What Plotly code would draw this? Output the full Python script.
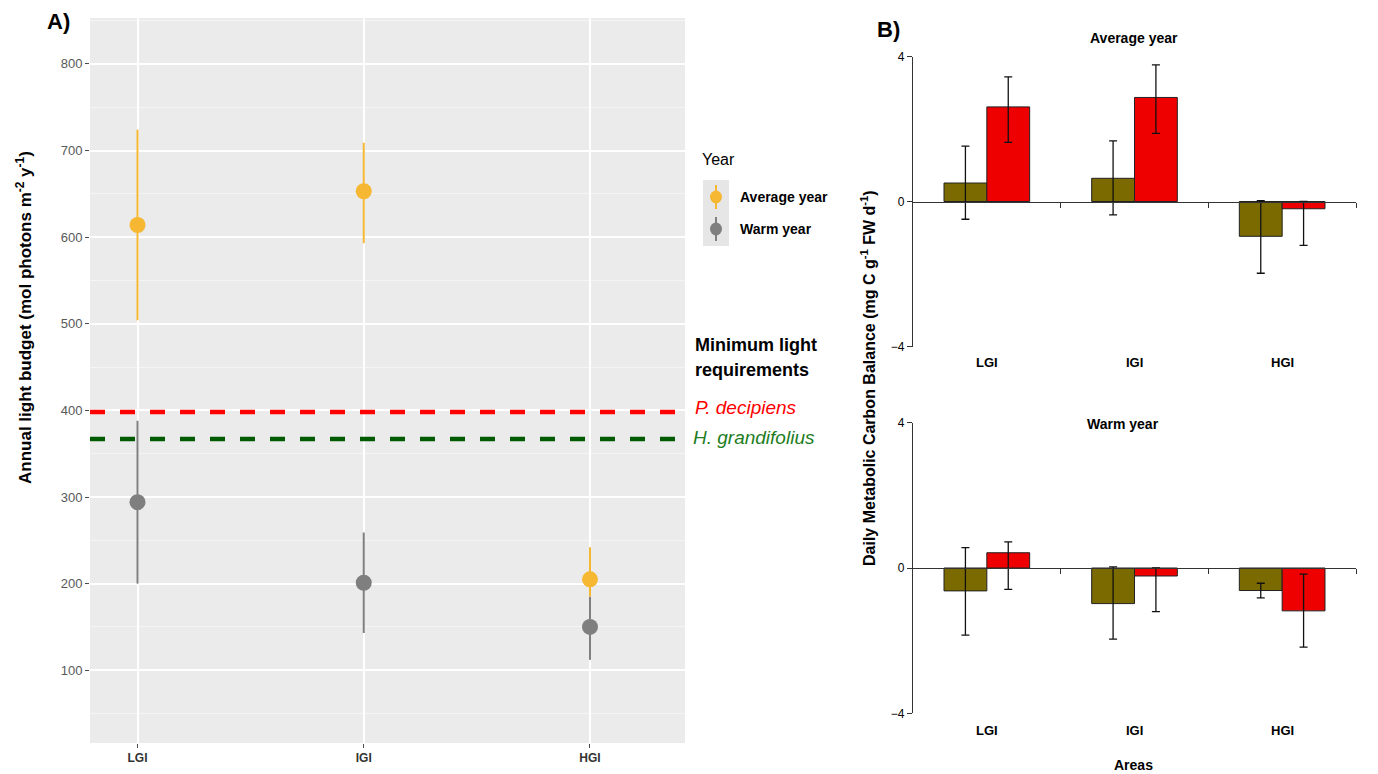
import plotly.graph_objects as go

# ---------------- data ----------------
areas = ["LGI", "IGI", "HGI"]

# Panel A: annual light budget (mol photons m-2 y-1)
light_avg = [614, 653, 205]
light_avg_lo = [504, 593, 185]
light_avg_hi = [724, 709, 242]
light_warm = [294, 201, 150]
light_warm_lo = [200, 143, 112]
light_warm_hi = [388, 259, 185]

min_light_names = ["P. decipiens", "H. grandifolius"]
min_light_values = [398, 367]

# Panel B: daily metabolic carbon balance
hg_avg = [0.51, 0.64, -0.96]
hg_avg_hi = [1.53, 1.67, 0.02]
hg_avg_lo = [-0.49, -0.37, -1.98]
pd_avg = [2.61, 2.87, -0.20]
pd_avg_hi = [3.44, 3.77, 0.0]
pd_avg_lo = [1.63, 1.88, -1.21]

hg_warm = [-0.63, -0.98, -0.62]
hg_warm_hi = [0.56, 0.03, -0.42]
hg_warm_lo = [-1.85, -1.96, -0.82]
pd_warm = [0.42, -0.22, -1.18]
pd_warm_hi = [0.72, 0.0, -0.17]
pd_warm_lo = [-0.59, -1.20, -2.18]

# ---------------- style ----------------
W, H = 1378, 774
FONT = "Liberation Sans, Arial, sans-serif"
ORANGE = "#F6B732"
GREY = "#7F7F7F"
OLIVE = "#7A6A00"
RED = "#EE0000"

def px(x):
    return x / W

def py(y):
    return 1 - y / H

fig = go.Figure()

# ---------------- Panel A ----------------
def err(vals, hi, lo):
    return dict(type="data", symmetric=False,
                array=[h - v for v, h in zip(vals, hi)],
                arrayminus=[v - l for v, l in zip(vals, lo)],
                thickness=2, width=0)

fig.add_trace(go.Scatter(x=areas, y=light_warm, mode="markers", name="Warm year",
                         marker=dict(color=GREY, size=16),
                         error_y=dict(err(light_warm, light_warm_hi, light_warm_lo), color=GREY),
                         xaxis="x", yaxis="y", showlegend=False))
fig.add_trace(go.Scatter(x=areas, y=light_avg, mode="markers", name="Average year",
                         marker=dict(color=ORANGE, size=16),
                         error_y=dict(err(light_avg, light_avg_hi, light_avg_lo), color=ORANGE),
                         xaxis="x", yaxis="y", showlegend=False))

line_cols = ["#FF0000", "#005A00"]
for v, c in zip(min_light_values, line_cols):
    fig.add_shape(type="line", xref="x domain", yref="y", x0=0, x1=1, y0=v, y1=v,
                  line=dict(color=c, width=4.5, dash="15px,15px"))

# ---------------- Panel B ----------------
def berr(vals, hi, lo):
    return dict(type="data", symmetric=False,
                array=[h - v for v, h in zip(vals, hi)],
                arrayminus=[v - l for v, l in zip(vals, lo)],
                thickness=1.3, width=4, color="#111111")

xi = list(range(len(areas)))
for (xa, ya, hg, hgh, hgl, pdv, pdh, pdl) in [
        ("x2", "y2", hg_avg, hg_avg_hi, hg_avg_lo, pd_avg, pd_avg_hi, pd_avg_lo),
        ("x3", "y3", hg_warm, hg_warm_hi, hg_warm_lo, pd_warm, pd_warm_hi, pd_warm_lo)]:
    fig.add_trace(go.Bar(x=xi, y=hg, name="H. grandifolius", marker=dict(color=OLIVE, line=dict(color="#222", width=1)),
                         error_y=berr(hg, hgh, hgl), xaxis=xa, yaxis=ya, showlegend=False))
    fig.add_trace(go.Bar(x=xi, y=pdv, name="P. decipiens", marker=dict(color=RED, line=dict(color="#222", width=1)),
                         error_y=berr(pdv, pdh, pdl), xaxis=xa, yaxis=ya, showlegend=False))

# domains
A_x = [px(90), px(685)]
A_y = [py(743), py(18)]
B_x = [px(913), px(1356)]
B1_y = [py(346.5), py(56.5)]
B2_y = [py(713.3), py(422.7)]

fig.update_layout(
    width=W, height=H,
    margin=dict(l=0, r=0, t=0, b=0, pad=0, autoexpand=False),
    paper_bgcolor="white",
    plot_bgcolor="white",
    font=dict(family=FONT, color="black"),
    barmode="group", bargap=0.42, bargroupgap=0,
    xaxis=dict(domain=A_x, anchor="y", range=[-0.21, 2.42], type="category", automargin=False,
               showgrid=True, gridcolor="white", gridwidth=1.6, zeroline=False,
               ticks="outside", ticklen=4, tickcolor="#4d4d4d",
               tickfont=dict(size=12, color="#333333", weight="bold", family=FONT),
               showline=False),
    yaxis=dict(domain=A_y, anchor="x", range=[16, 853], tickvals=[100, 200, 300, 400, 500, 600, 700, 800],
               automargin=False,
               showgrid=True, gridcolor="white", gridwidth=1.6, zeroline=False,
               minor=dict(tickvals=[50, 150, 250, 350, 450, 550, 650, 750, 850], showgrid=True,
                          gridcolor="#F4F4F4", gridwidth=0.8),
               ticks="outside", ticklen=4, tickcolor="#4d4d4d",
               tickfont=dict(size=13, color="#595959", family=FONT), showline=False),
    xaxis2=dict(domain=B_x, anchor="free", position=(B1_y[0] + B1_y[1]) / 2, range=[-0.5, 2.5],
                automargin=False,
                tickvals=[0.5, 1.5, 2.5], showticklabels=False, ticks="outside", ticklen=5,
                tickcolor="#333", showline=True, linecolor="#333", linewidth=1.2,
                showgrid=False, zeroline=False),
    yaxis2=dict(domain=B1_y, anchor="x2", range=[-4, 4], tickvals=[-4, 0, 4], automargin=False,
                ticks="outside", ticklen=5, tickcolor="#333", showline=True, linecolor="#333",
                linewidth=1.2, showgrid=False, zeroline=False,
                tickfont=dict(size=12, color="black", family=FONT)),
    xaxis3=dict(domain=B_x, anchor="free", position=(B2_y[0] + B2_y[1]) / 2, range=[-0.5, 2.5],
                automargin=False,
                tickvals=[0.5, 1.5, 2.5], showticklabels=False, ticks="outside", ticklen=5,
                tickcolor="#333", showline=True, linecolor="#333", linewidth=1.2,
                showgrid=False, zeroline=False),
    yaxis3=dict(domain=B2_y, anchor="x3", range=[-4, 4], tickvals=[-4, 0, 4], automargin=False,
                ticks="outside", ticklen=5, tickcolor="#333", showline=True, linecolor="#333",
                linewidth=1.2, showgrid=False, zeroline=False,
                tickfont=dict(size=12, color="black", family=FONT)),
)
# grey plot background for panel A
fig.add_shape(type="rect", xref="x domain", yref="y domain", x0=0, x1=1, y0=0, y1=1,
              fillcolor="#EBEBEB", line=dict(width=0), layer="below")

ann = []
def add_text(text, x, y, size, color="black", bold=False, italic=False, xanchor="center",
             yanchor="middle", angle=0, xref="paper", yref="paper"):
    t = text
    if bold:
        t = "<b>" + t + "</b>"
    if italic:
        t = "<i>" + t + "</i>"
    ann.append(dict(text=t, x=x, y=y, xref=xref, yref=yref, showarrow=False,
                    xanchor=xanchor, yanchor=yanchor, textangle=angle,
                    font=dict(size=size, color=color, family=FONT)))

# panel labels
add_text("A)", px(58), py(22), 22, bold=True)
add_text("B)", px(888), py(30), 22, bold=True)

# panel A axis title
add_text("Annual light budget (mol photons m<sup>-2</sup> y<sup>-1</sup>)", px(24), py(318), 17,
         bold=True, angle=-90)

# panel A legend
add_text("Year", px(700), py(160), 16, xanchor="left")
fig.add_shape(type="rect", xref="paper", yref="paper", x0=px(703), x1=px(729), y0=py(246), y1=py(180),
              fillcolor="#E6E6E6", line=dict(width=0))
for (yc, col, lab) in [(197, ORANGE, "Average year"), (229, GREY, "Warm year")]:
    fig.add_shape(type="line", xref="paper", yref="paper", x0=px(716), x1=px(716),
                  y0=py(yc - 12), y1=py(yc + 12), line=dict(color=col, width=2))
    fig.add_shape(type="circle", xref="paper", yref="paper", x0=px(710), x1=px(722),
                  y0=py(yc + 6.5), y1=py(yc - 6.5), fillcolor=col, line=dict(width=0))
    add_text(lab, px(738), py(yc), 14, bold=True, xanchor="left")

# minimum light requirement annotations
add_text("Minimum light", px(693), py(345), 18, bold=True, xanchor="left")
add_text("requirements", px(693), py(370), 18, bold=True, xanchor="left")
add_text(min_light_names[0], px(693), py(407), 19, color="#FF0000", italic=True, xanchor="left")
add_text(min_light_names[1], px(691), py(437), 19, color="#1E7D1E", italic=True, xanchor="left")

# panel B titles & labels
add_text("Average year", px(1134), py(38), 14, bold=True)
add_text("Warm year", px(1123), py(424), 14, bold=True)
add_text("Areas", px(1133), py(765), 14, bold=True)
add_text("Daily Metabolic Carbon Balance (mg C g<sup>-1</sup> FW d<sup>-1</sup>)", px(868), py(378), 16,
         bold=True, angle=-90)
for i, a in enumerate(areas):
    add_text(a, i, py(363), 13, bold=True, xref="x2")
    add_text(a, i, py(730), 13, bold=True, xref="x3")

fig.update_layout(annotations=ann)

fig.write_html("out.html")
